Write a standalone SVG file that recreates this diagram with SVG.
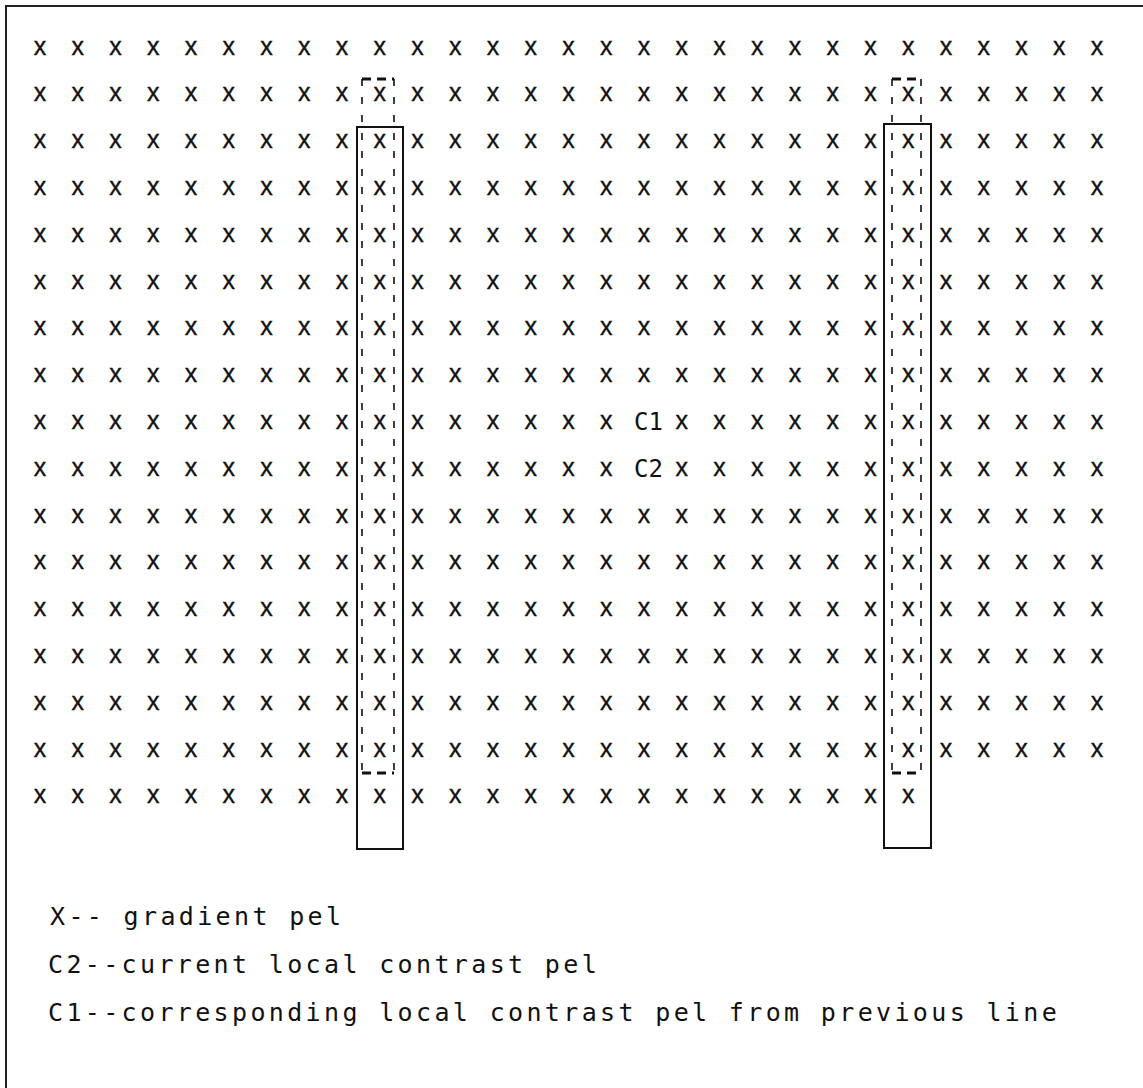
<svg xmlns="http://www.w3.org/2000/svg" width="1143" height="1088" viewBox="0 0 1143 1088">
<style>
.g{font-family:"Liberation Sans",sans-serif;font-size:25px;text-anchor:middle;fill:#111;stroke:#111;stroke-width:0.35}
.t{font-family:"DejaVu Sans Mono","Liberation Mono",monospace;font-size:25px;fill:#111;letter-spacing:3.35px}
.c{font-family:"DejaVu Sans Mono","Liberation Mono",monospace;font-size:24px;fill:#111}
.frame{fill:none;stroke:#222;stroke-width:2}
.solid{fill:none;stroke:#111;stroke-width:2}
.dv{fill:none;stroke:#111;stroke-width:1.6;stroke-dasharray:7 11}
.dh{fill:none;stroke:#111;stroke-width:3;stroke-dasharray:9 6}
</style>
<rect width="1143" height="1088" fill="#fff"/>
<g id="frame">
<path class="frame" d="M6,1088 V6 H1143"/>
</g>
<g id="grid">
<text class="g" y="54.5" x="40 77.75 115.5 153.25 191 228.75 266.5 304.25 342 379.75 417.5 455.25 493 530.75 568.5 606.25 644 681.75 719.5 757.25 795 832.75 870.5 908.25 946 983.75 1021.5 1059.25 1097">xxxxxxxxxxxxxxxxxxxxxxxxxxxxx</text>
<text class="g" y="101.3" x="40 77.75 115.5 153.25 191 228.75 266.5 304.25 342 379.75 417.5 455.25 493 530.75 568.5 606.25 644 681.75 719.5 757.25 795 832.75 870.5 908.25 946 983.75 1021.5 1059.25 1097">xxxxxxxxxxxxxxxxxxxxxxxxxxxxx</text>
<text class="g" y="148.1" x="40 77.75 115.5 153.25 191 228.75 266.5 304.25 342 379.75 417.5 455.25 493 530.75 568.5 606.25 644 681.75 719.5 757.25 795 832.75 870.5 908.25 946 983.75 1021.5 1059.25 1097">xxxxxxxxxxxxxxxxxxxxxxxxxxxxx</text>
<text class="g" y="194.9" x="40 77.75 115.5 153.25 191 228.75 266.5 304.25 342 379.75 417.5 455.25 493 530.75 568.5 606.25 644 681.75 719.5 757.25 795 832.75 870.5 908.25 946 983.75 1021.5 1059.25 1097">xxxxxxxxxxxxxxxxxxxxxxxxxxxxx</text>
<text class="g" y="241.7" x="40 77.75 115.5 153.25 191 228.75 266.5 304.25 342 379.75 417.5 455.25 493 530.75 568.5 606.25 644 681.75 719.5 757.25 795 832.75 870.5 908.25 946 983.75 1021.5 1059.25 1097">xxxxxxxxxxxxxxxxxxxxxxxxxxxxx</text>
<text class="g" y="288.5" x="40 77.75 115.5 153.25 191 228.75 266.5 304.25 342 379.75 417.5 455.25 493 530.75 568.5 606.25 644 681.75 719.5 757.25 795 832.75 870.5 908.25 946 983.75 1021.5 1059.25 1097">xxxxxxxxxxxxxxxxxxxxxxxxxxxxx</text>
<text class="g" y="335.3" x="40 77.75 115.5 153.25 191 228.75 266.5 304.25 342 379.75 417.5 455.25 493 530.75 568.5 606.25 644 681.75 719.5 757.25 795 832.75 870.5 908.25 946 983.75 1021.5 1059.25 1097">xxxxxxxxxxxxxxxxxxxxxxxxxxxxx</text>
<text class="g" y="382.1" x="40 77.75 115.5 153.25 191 228.75 266.5 304.25 342 379.75 417.5 455.25 493 530.75 568.5 606.25 644 681.75 719.5 757.25 795 832.75 870.5 908.25 946 983.75 1021.5 1059.25 1097">xxxxxxxxxxxxxxxxxxxxxxxxxxxxx</text>
<text class="g" y="428.9" x="40 77.75 115.5 153.25 191 228.75 266.5 304.25 342 379.75 417.5 455.25 493 530.75 568.5 606.25">xxxxxxxxxxxxxxxx</text>
<text class="g" y="428.9" x="681.75 719.5 757.25 795 832.75 870.5 908.25 946 983.75 1021.5 1059.25 1097">xxxxxxxxxxxx</text>
<text class="g" y="475.7" x="40 77.75 115.5 153.25 191 228.75 266.5 304.25 342 379.75 417.5 455.25 493 530.75 568.5 606.25">xxxxxxxxxxxxxxxx</text>
<text class="g" y="475.7" x="681.75 719.5 757.25 795 832.75 870.5 908.25 946 983.75 1021.5 1059.25 1097">xxxxxxxxxxxx</text>
<text class="g" y="522.5" x="40 77.75 115.5 153.25 191 228.75 266.5 304.25 342 379.75 417.5 455.25 493 530.75 568.5 606.25 644 681.75 719.5 757.25 795 832.75 870.5 908.25 946 983.75 1021.5 1059.25 1097">xxxxxxxxxxxxxxxxxxxxxxxxxxxxx</text>
<text class="g" y="569.3" x="40 77.75 115.5 153.25 191 228.75 266.5 304.25 342 379.75 417.5 455.25 493 530.75 568.5 606.25 644 681.75 719.5 757.25 795 832.75 870.5 908.25 946 983.75 1021.5 1059.25 1097">xxxxxxxxxxxxxxxxxxxxxxxxxxxxx</text>
<text class="g" y="616.1" x="40 77.75 115.5 153.25 191 228.75 266.5 304.25 342 379.75 417.5 455.25 493 530.75 568.5 606.25 644 681.75 719.5 757.25 795 832.75 870.5 908.25 946 983.75 1021.5 1059.25 1097">xxxxxxxxxxxxxxxxxxxxxxxxxxxxx</text>
<text class="g" y="662.9" x="40 77.75 115.5 153.25 191 228.75 266.5 304.25 342 379.75 417.5 455.25 493 530.75 568.5 606.25 644 681.75 719.5 757.25 795 832.75 870.5 908.25 946 983.75 1021.5 1059.25 1097">xxxxxxxxxxxxxxxxxxxxxxxxxxxxx</text>
<text class="g" y="709.7" x="40 77.75 115.5 153.25 191 228.75 266.5 304.25 342 379.75 417.5 455.25 493 530.75 568.5 606.25 644 681.75 719.5 757.25 795 832.75 870.5 908.25 946 983.75 1021.5 1059.25 1097">xxxxxxxxxxxxxxxxxxxxxxxxxxxxx</text>
<text class="g" y="756.5" x="40 77.75 115.5 153.25 191 228.75 266.5 304.25 342 379.75 417.5 455.25 493 530.75 568.5 606.25 644 681.75 719.5 757.25 795 832.75 870.5 908.25 946 983.75 1021.5 1059.25 1097">xxxxxxxxxxxxxxxxxxxxxxxxxxxxx</text>
<text class="g" y="803.3" x="40 77.75 115.5 153.25 191 228.75 266.5 304.25 342 379.75 417.5 455.25 493 530.75 568.5 606.25 644 681.75 719.5 757.25 795 832.75 870.5 908.25">xxxxxxxxxxxxxxxxxxxxxxxx</text>
</g>
<g id="c1"><text class="c" x="634" y="430">C1</text></g>
<g id="c2"><text class="c" x="634" y="477">C2</text></g>
<g id="boxes">
<rect id="box-left" class="solid" x="357" y="127" width="46" height="722"/>
<rect id="box-right" class="solid" x="884" y="124" width="47" height="724"/>
<g id="dash-left">
<path class="dv" d="M362,79 V773 M394,79 V773"/>
<path class="dh" d="M362,79 H394 M362,773 H394"/>
</g>
<g id="dash-right">
<path class="dv" d="M892,79 V773 M921,79 V773"/>
<path class="dh" d="M892,79 H921 M892,773 H921"/>
</g>
</g>
<g id="legend">
<text class="t" x="50" y="925">X-- gradient pel</text>
<text class="t" x="48" y="973">C2--current local contrast pel</text>
<text class="t" x="48" y="1021">C1--corresponding local contrast pel from previous line</text>
</g>
</svg>
